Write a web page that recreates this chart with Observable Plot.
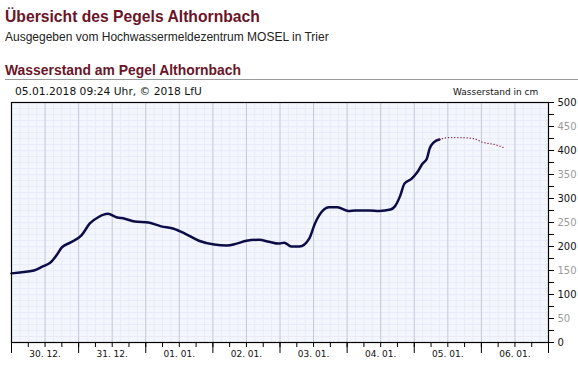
<!DOCTYPE html>
<html>
<head>
<meta charset="utf-8">
<script src="https://cdn.jsdelivr.net/npm/d3@7"></script>
<script src="https://cdn.jsdelivr.net/npm/@observablehq/plot@0.6"></script>
<style>
  html, body { margin: 0; padding: 0; background: #fff; }
  #wrap { position: relative; width: 578px; height: 375px; overflow: hidden; }
  .t { position: absolute; white-space: nowrap; line-height: 1; }
  #title { left: 5px; top: 8px; font: bold 15.7px "Liberation Sans", Arial, sans-serif; color: #6a1528; }
  #sub { left: 5px; top: 30px; font: 12px "Liberation Sans", Arial, sans-serif; color: #222; }
  #head2 { left: 5px; top: 62px; font: bold 13.9px "Liberation Sans", Arial, sans-serif; color: #6a1528; }
  #rule { position: absolute; left: 5px; right: 0; top: 79px; height: 0; border-top: 1px solid #9a9a9a; }
  #stamp { left: 15px; top: 85px; font: 10.7px "DejaVu Sans", Verdana, sans-serif; color: #111; }
  #unit { left: 453px; top: 87px; font: 9px "DejaVu Sans", Verdana, sans-serif; color: #111; }
  svg { position: absolute; left: 0; top: 0; }
</style>
</head>
<body>
<div id="wrap">
  <div class="t" id="title">Übersicht des Pegels Althornbach</div>
  <div class="t" id="sub">Ausgegeben vom Hochwassermeldezentrum MOSEL in Trier</div>
  <div class="t" id="head2">Wasserstand am Pegel Althornbach</div>
  <div id="rule"></div>
  <div class="t" id="stamp">05.01.2018 09:24 Uhr, © 2018 LfU</div>
  <div class="t" id="unit">Wasserstand in cm</div>
</div>
<script>
// Observed water level (cm)
const obsTimes = [
  "2017-12-30T00:00","2017-12-30T03:00","2017-12-30T08:00","2017-12-30T11:00","2017-12-30T14:00",
  "2017-12-30T16:00","2017-12-30T18:00","2017-12-30T21:00","2017-12-31T01:00","2017-12-31T04:00",
  "2017-12-31T07:00","2017-12-31T10:30","2017-12-31T13:30","2017-12-31T16:30","2017-12-31T20:00",
  "2018-01-01T01:00","2018-01-01T05:30","2018-01-01T10:00","2018-01-01T14:00","2018-01-01T19:00",
  "2018-01-02T00:30","2018-01-02T05:00","2018-01-02T08:30","2018-01-02T12:00","2018-01-02T16:30",
  "2018-01-02T20:00","2018-01-02T23:30","2018-01-03T01:30","2018-01-03T04:00","2018-01-03T07:00",
  "2018-01-03T10:30","2018-01-03T12:30","2018-01-03T14:00","2018-01-03T17:30","2018-01-03T20:30",
  "2018-01-04T00:30","2018-01-04T03:00","2018-01-04T08:00","2018-01-04T11:30","2018-01-04T15:30",
  "2018-01-04T17:00","2018-01-04T19:00","2018-01-04T20:30","2018-01-04T23:00","2018-01-05T01:00",
  "2018-01-05T03:00","2018-01-05T04:30","2018-01-05T05:30","2018-01-05T07:00","2018-01-05T09:00"
];
const obsValues = [
  144,146,150,158,167,
  181,198,208,223,248,
  261,268,261,258,252,
  250,242,237,227,212,
  204,202,206,212,214,
  210,206,208,200,200,
  217,248,265,282,282,
  274,275,275,274,277,
  283,306,331,341,354,
  373,383,404,417,423
];
// Forecast (dotted)
const fcTimes = ["2018-01-05T09:00","2018-01-05T12:30","2018-01-05T16:00","2018-01-05T21:00","2018-01-06T00:30","2018-01-06T05:00","2018-01-06T08:00"];
const fcValues = [423,427,427,425,417,412,406];

// Axis labels
const dayLabels = ["30. 12.","31. 12.","01. 01.","02. 01.","03. 01.","04. 01.","05. 01.","06. 01."];
const yLabelsDark = [0,100,200,300,400,500];
const yLabelsLight = [50,150,250,350,450];

const parse = s => new Date(s + "Z");
const obs = obsTimes.map((t,i) => ({t: parse(t), v: obsValues[i]}));
const fc = fcTimes.map((t,i) => ({t: parse(t), v: fcValues[i]}));

const t0 = parse("2017-12-30T00:00");
const t1 = parse("2018-01-07T00:00");
const H = 3600e3;
const every = h => d3.range(0, (t1 - t0) / H + 0.001, h).map(k => new Date(+t0 + k * H));
const days = every(24);
const sixH = every(6);
const twelveH = every(12).filter(d => +d > +t0 && +d < +t1);
const noons = days.slice(0, 8).map(d => new Date(+d + 12 * H));
const yTicks = d3.range(0, 501, 25);

const chart = Plot.plot({
  width: 578,
  height: 375,
  marginTop: 102,
  marginBottom: 33,
  marginLeft: 11,
  marginRight: 30,
  x: {type: "utc", domain: [t0, t1], axis: null},
  y: {domain: [0, 500], axis: null},
  style: {fontFamily: "DejaVu Sans, Verdana, sans-serif", background: "transparent"},
  marks: [
    Plot.frame({fill: "#f3f6fd"}),
    Plot.ruleY(d3.range(12.5, 500, 12.5), {stroke: "#e9ecf8", strokeWidth: 1}),
    Plot.ruleX(every(3).slice(1, -1), {stroke: "#e9ecf8", strokeWidth: 1}),
    Plot.ruleX(twelveH, {stroke: "#c6c9d8", strokeWidth: 1}),
    Plot.line(obs, {x: "t", y: "v", stroke: "#0c0c46", strokeWidth: 2.5, curve: "monotone-x"}),
    Plot.line(fc, {x: "t", y: "v", stroke: "#7a1030", strokeWidth: 1.3, strokeDasharray: "0.1,3", strokeLinecap: "round", curve: "monotone-x"}),
    Plot.frame({stroke: "#000", strokeWidth: 1.2}),
    // x axis ticks
    Plot.axisX({ticks: sixH, tickSize: 5, tickFormat: () => "", label: null, stroke: "#000"}),
    Plot.axisX({ticks: days, tickSize: 11, tickFormat: () => "", label: null, stroke: "#000"}),
    Plot.text(noons, {x: d => d, y: 0, text: (d, i) => dayLabels[i], dy: 12, fontSize: 9, fill: "#111"}),
    // y axis ticks on the right
    Plot.axisY({anchor: "right", ticks: yTicks, tickSize: 5, tickFormat: () => "", label: null, stroke: "#000"}),
    Plot.text(yLabelsDark, {x: t1, y: d => d, text: d => String(d), textAnchor: "start", dx: 9, fontSize: 10, fill: "#111"}),
    Plot.text(yLabelsLight, {x: t1, y: d => d, text: d => String(d), textAnchor: "start", dx: 9, fontSize: 10, fill: "#9a9a9a"})
  ]
});
document.getElementById("wrap").appendChild(chart);
</script>
</body>
</html>
